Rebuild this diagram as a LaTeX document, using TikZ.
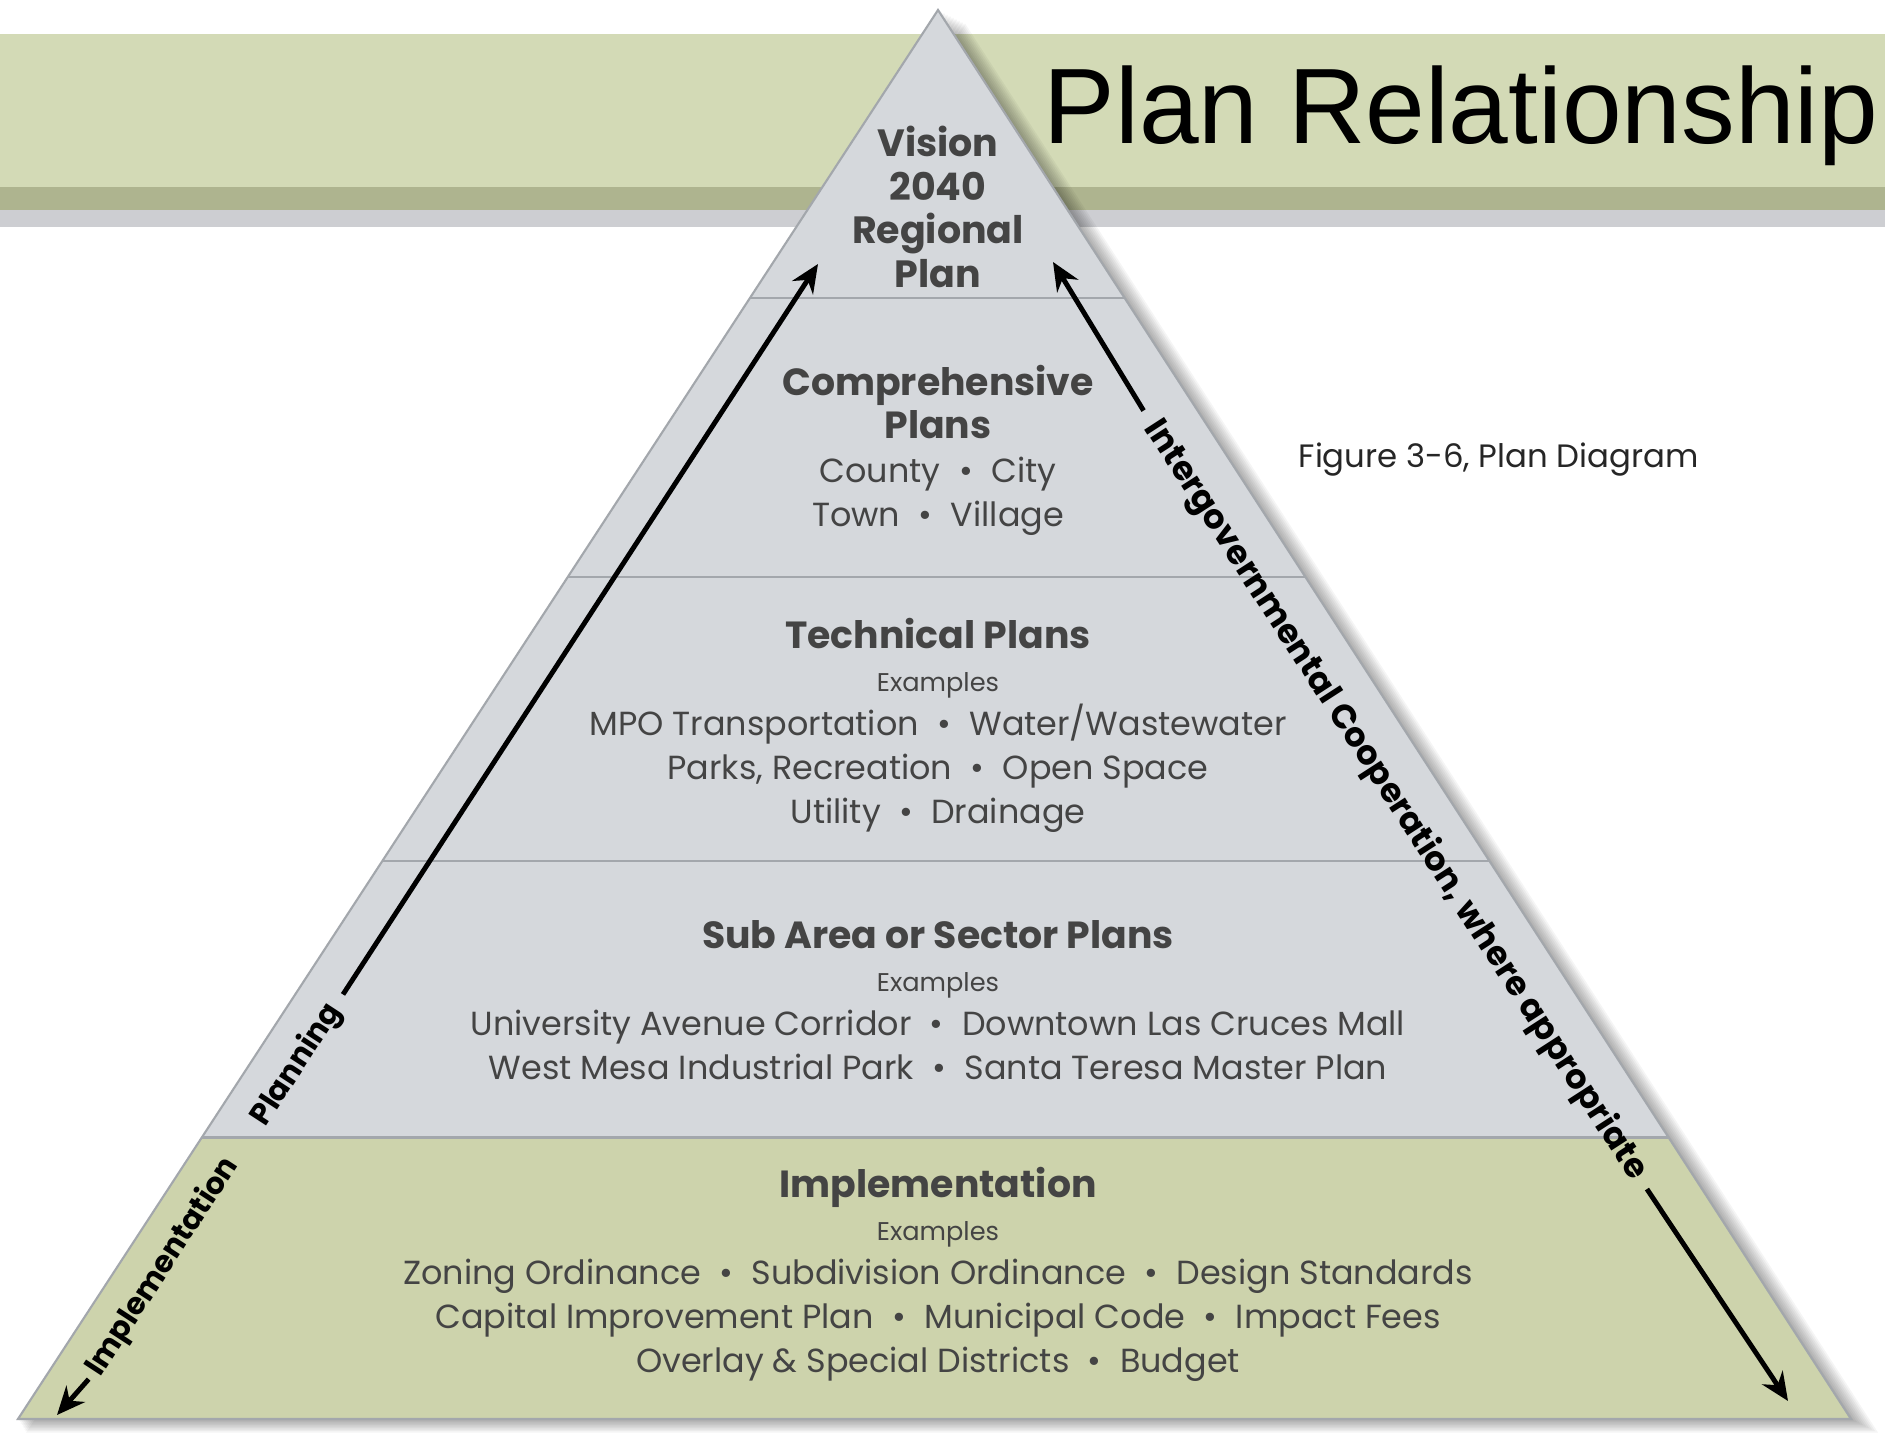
\documentclass[tikz,border=0pt]{standalone}
\usepackage{fontspec}
\setmainfont{Poppins}
\newfontfamily\titlefont{Liberation Sans}
\usetikzlibrary{arrows.meta,calc}

\definecolor{bannergreen}{HTML}{D3DAB6}
\definecolor{bannerdark}{HTML}{AEB48F}
\definecolor{bannergray}{HTML}{CDCED2}
\definecolor{pyrgray}{HTML}{D5D8DC}
\definecolor{pyrgreen}{HTML}{CDD3AC}
\definecolor{pyredge}{HTML}{A3A7AC}
\definecolor{txtgray}{HTML}{444444}

\newcommand{\itemdot}{\hspace{0.55em}\textbullet\hspace{0.55em}}
\newcommand{\lvlhead}[1]{{\fontsize{10.75}{12.43}\selectfont\bfseries #1}}
\newcommand{\examples}{{\fontsize{7.3}{12.43}\selectfont Examples}}

\tikzset{
  lvltext/.style={align=center, inner sep=0pt, text=txtgray,
    font=\fontsize{9.5}{12.43}\selectfont},
  sidelabel/.style={inner sep=0pt, font=\fontsize{9.6}{12}\selectfont\bfseries},
  flowarrow/.style={line width=1.4pt, -{Stealth[length=8pt,width=7pt]}},
}

\begin{document}
\begin{tikzpicture}[x=0.01cm, y=-0.01cm]
    \useasboundingbox[fill=white] (0,0) rectangle (1885,1434);
    % banner
    \fill[bannergray] (0,205) rectangle (1885,227);
    \fill[bannerdark] (0,185) rectangle (1885,210);
    \fill[bannergreen] (0,34) rectangle (1885,187);
    \node[anchor=base west, inner sep=0pt, font=\titlefont\fontsize{30.5}{36}\selectfont] (title) at (1043,144) {Plan Relationship};
    % piramide
    \coordinate (top) at (938,10);
    \coordinate (bl) at (18,1419);
    \coordinate (br) at (1851,1419);
    \foreach \d in {3,6,...,27}
        \fill[black, opacity=0.04] ([shift={(\d,0.5*\d)}]top) -- ([shift={(\d,0.5*\d)}]br) -- ([shift={(0.3*\d,0.5*\d)}]bl) -- cycle;
    \fill[pyrgray] (top) -- (br) -- (bl) -- cycle;
    \fill[pyrgreen] (bl) -- (br) -- ($(top)!0.8!(br)$) -- ($(top)!0.8!(bl)$) -- cycle;
    \foreach \t in {0.2044,0.4024,0.604,0.8}
        \draw[pyredge, line width=0.8pt] ($(top)!\t!(bl)$) -- ($(top)!\t!(br)$);
    \draw[pyredge, line width=0.6pt] (top) -- (br) -- (bl) -- cycle;
    % livelli
    \node[lvltext, font=\fontsize{10.8}{12.43}\selectfont\bfseries] (vision) at (938,207) {Vision\\2040\\Regional\\Plan};
    \node[lvltext] (comp) at (938,450) {\lvlhead{Comprehensive}\\\lvlhead{Plans}\\County\itemdot City\\Town\itemdot Village};
    \node[lvltext] (tech) at (938,725) {\lvlhead{Technical Plans}\\\examples\\MPO Transportation\itemdot Water/Wastewater\\Parks, Recreation\itemdot Open Space\\Utility\itemdot Drainage};
    \node[lvltext] (sub) at (938,1000) {\lvlhead{Sub Area or Sector Plans}\\\examples\\University Avenue Corridor\itemdot Downtown Las Cruces Mall\\West Mesa Industrial Park\itemdot Santa Teresa Master Plan};
    \node[lvltext] (impl) at (938,1274) {\lvlhead{Implementation}\\\examples\\Zoning Ordinance\itemdot Subdivision Ordinance\itemdot Design Standards\\Capital Improvement Plan\itemdot Municipal Code\itemdot Impact Fees\\Overlay \& Special Districts\itemdot Budget};
    % frecce laterali
    \node[sidelabel, font=\fontsize{8.6}{12}\selectfont\bfseries, rotate=56.9] (planning) at (297,1065) {Planning};
    \node[sidelabel, font=\fontsize{8.6}{12}\selectfont\bfseries, rotate=56.9] (implabel) at (163,1267) {Implementation};
    \node[sidelabel, rotate=-57.1] (coop) at (1395,800) {Intergovernmental Cooperation, where appropriate};
    \coordinate (plantip) at (818,264);
    \coordinate (imptip) at (57,1415);
    \coordinate (cooptip) at (1053,262);
    \coordinate (downtip) at (1788,1401);
    \draw[flowarrow, shorten <=4pt] (planning.east) -- (plantip);
    \draw[flowarrow, shorten <=2pt] (implabel.west) -- (imptip);
    \draw[flowarrow, shorten <=4pt] (coop.west) -- (cooptip);
    \draw[flowarrow, shorten <=4pt] (coop.east) -- (downtip);
    % didascalia
    \node[anchor=west, inner sep=0pt, font=\fontsize{9.2}{11}\selectfont, text=black!85] (figcap) at (1298,460) {Figure 3-6, Plan Diagram};
\end{tikzpicture}
\end{document}
